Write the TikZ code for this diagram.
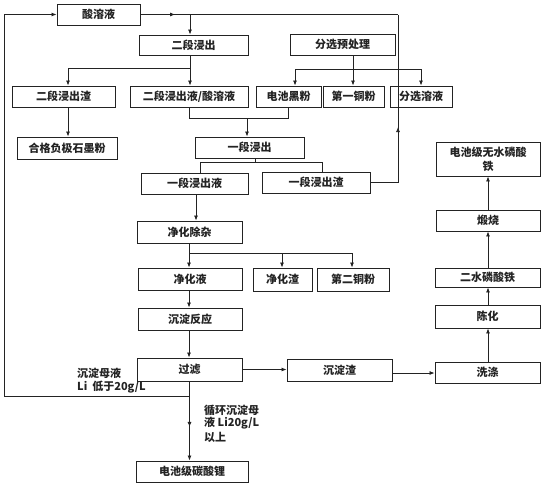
\documentclass[tikz,border=0pt]{standalone}
\usepackage{fontspec}
\newfontfamily\cjk{Noto Sans CJK SC}
\usetikzlibrary{arrows.meta,decorations.markings,calc}
\definecolor{ink}{RGB}{35,35,35}
\begin{document}
\begin{tikzpicture}[x=1pt,y=-1pt,
  box/.style={draw=ink, line width=0.9pt, inner sep=0pt, text=ink,
    font=\cjk\bfseries\fontsize{11}{14}\selectfont, align=center},
  lbl/.style={inner sep=0pt, anchor=west, text=ink,
    font=\cjk\bfseries\fontsize{11}{13}\selectfont},
  ln/.style={draw=ink, line width=0.8pt},
  arr/.style={ln, -{Latex[length=5pt,width=4pt]}},
  midarr/.style={postaction={decorate}, decoration={markings,
    mark=at position #1 with {\arrow[ink]{Latex[length=5pt,width=4pt]}}}}]
\useasboundingbox (0,0) rectangle (546,485);
% boxes
\node[box, minimum width=83pt, minimum height=21pt] (sr) at (98.5,14.5) {酸溶液};
\node[box, minimum width=109pt, minimum height=20pt] (ed) at (193.5,45) {二段浸出};
\node[box, minimum width=105pt, minimum height=21pt] (fx) at (342.5,44.5) {分选预处理};
\node[box, minimum width=103pt, minimum height=21pt] (edz) at (63.5,96.5) {二段浸出渣};
\node[box, minimum width=118pt, minimum height=21pt] (edy) at (189,96.5) {二段浸出液/酸溶液};
\node[box, minimum width=65pt, minimum height=21pt] (dc) at (288.5,96.5) {电池黑粉};
\node[box, minimum width=61pt, minimum height=21pt] (dy) at (353.5,96.5) {第一铜粉};
\node[box, minimum width=62pt, minimum height=21pt] (fxr) at (421,96.5) {分选溶液};
\node[box, minimum width=100pt, minimum height=22pt] (hg) at (67,148) {合格负极石墨粉};
\node[box, minimum width=109pt, minimum height=21pt] (yd) at (249.5,147.5) {一段浸出};
\node[box, minimum width=107pt, minimum height=21pt] (ydy) at (194.5,183.5) {一段浸出液};
\node[box, minimum width=108pt, minimum height=21pt] (ydz) at (316,182.5) {一段浸出渣};
\node[box, minimum width=104pt, minimum height=34pt] (lsf) at (488,159) {电池级无水磷酸\\铁};
\node[box, minimum width=104pt, minimum height=21pt] (ds) at (488,220.5) {煅烧};
\node[box, minimum width=105pt, minimum height=22pt] (jh) at (189.5,232) {净化除杂};
\node[box, minimum width=104pt, minimum height=22pt] (jhy) at (190,279) {净化液};
\node[box, minimum width=59pt, minimum height=23pt] (jhz) at (282.5,279.5) {净化渣};
\node[box, minimum width=72pt, minimum height=23pt] (det) at (353,279.5) {第二铜粉};
\node[box, minimum width=105pt, minimum height=19pt] (es) at (487.5,277.5) {二水磷酸铁};
\node[box, minimum width=105pt, minimum height=23pt] (ch) at (487.5,316.5) {陈化};
\node[box, minimum width=104pt, minimum height=22pt] (cdfy) at (190,319) {沉淀反应};
\node[box, minimum width=105pt, minimum height=23pt] (gl) at (189.5,369.5) {过滤};
\node[box, minimum width=105pt, minimum height=22pt] (cdz) at (339.5,370) {沉淀渣};
\node[box, minimum width=105pt, minimum height=21pt] (xd) at (487.5,372.5) {洗涤};
\node[box, minimum width=112pt, minimum height=21pt] (tsl) at (192,471.5) {电池级碳酸锂};
% labels
\node[lbl] (t1) at (77,373) {沉淀母液};
\node[lbl] (t2) at (77,387) {Li\ \ 低于20g/L};
\node[lbl] (t3) at (204,410) {循环沉淀母};
\node[lbl] (t4) at (204,423) {液 Li20g/L};
\node[lbl] (t5) at (204,437) {以上};
% coordinates
\coordinate (j1) at (190,14.5);
\coordinate (r1) at (398,182.5);
\coordinate (r2) at (398,14.5);
\coordinate (l1) at (189.5,396);
\coordinate (l2) at (4,396);
\coordinate (l3) at (4,14.5);
\coordinate (b1) at (190,68);
\coordinate (b2) at (68,68);
\coordinate (c1) at (353,69);
\coordinate (c2) at (295,69);
\coordinate (c3) at (421,69);
\coordinate (d1) at (189,118);
\coordinate (d2) at (288,118);
\coordinate (d3) at (247,118);
\coordinate (e1) at (255,162);
\coordinate (e2) at (200,162);
\coordinate (e3) at (322,162);
\coordinate (f1) at (196,200);
\coordinate (g1) at (189,253);
\coordinate (g2) at (282,253);
\coordinate (g3) at (352,253);
\coordinate (h1) at (393,373);
\coordinate (k1) at (488,300);
% connectors
\draw[ln, midarr=0.7] (sr.east) -- (j1);
\draw[arr] (j1) -- (j1 |- ed.north);
\draw[ln] (ydz.east) -- (r1);
\draw[ln, midarr=0.33] (r1) -- (r2);
\draw[ln] (r2) -- (j1);
\draw[arr] (l1) -- (l2) -- (l3) -- (sr.west);
\draw[ln] (b1 |- ed.south) -- (b1);
\draw[arr] (b1) -- (b1 |- edy.north);
\draw[arr] (b1) -- (b2) -- (b2 |- edz.north);
\draw[arr] (b2 |- edz.south) -- (b2 |- hg.north);
\draw[arr] (c1 |- fx.south) -- (c1 |- dy.north);
\draw[ln] (c2) -- (c3);
\draw[arr] (c2) -- (c2 |- dc.north);
\draw[arr] (c3) -- (c3 |- fxr.north);
\draw[ln] (d1 |- edy.south) -- (d1) -- (d2) -- (d2 |- dc.south);
\draw[arr] (d3) -- (d3 |- yd.north);
\draw[ln] (e1 |- yd.south) -- (e1);
\draw[ln] (e2 |- ydy.north) -- (e2) -- (e3) -- (e3 |- ydz.north);
\draw[arr] (f1 |- ydy.south) -- (f1 |- jh.north);
\draw[arr] (g1 |- jh.south) -- (g1 |- jhy.north);
\draw[ln] (g1) -- (g3);
\draw[arr] (g2) -- (g2 |- jhz.north);
\draw[arr] (g3) -- (g3 |- det.north);
\draw[arr] (g1 |- jhy.south) -- (g1 |- cdfy.north);
\draw[arr] (g1 |- cdfy.south) -- (g1 |- gl.north);
\draw[arr] (gl.east) -- (gl.east -| cdz.west);
\draw[arr] (h1) -- (h1 -| xd.west);
\draw[arr] (k1 |- xd.north) -- (k1 |- ch.south);
\draw[arr] (k1 |- ch.north) -- (k1 |- es.south);
\draw[arr] (k1 |- es.north) -- (k1 |- ds.south);
\draw[arr] (k1 |- ds.north) -- (k1 |- lsf.south);
\draw[ln] (l1 |- gl.south) -- (l1);
\draw[arr, midarr=0.48] (l1) -- (l1 |- tsl.north);
\end{tikzpicture}
\end{document}
